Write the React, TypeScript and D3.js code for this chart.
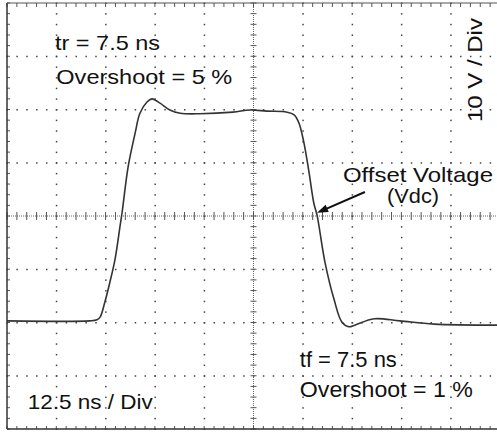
import React from "react";
import * as d3 from "d3";

// Waveform samples: time (ns) and voltage (V)
const timeNs = [0, 21.0, 22.8, 23.6, 24.8, 26.1, 27.4, 28.7, 29.2, 30.7, 32.5, 33.7, 35.5, 36.8, 38.8, 41.3, 43.9, 48.9, 57.3, 61.6, 65.9, 71.0, 72.8, 74.0, 75.3, 76.6, 77.8, 78.6, 80.6, 82.9, 84.9, 86.7, 88.2, 93.1, 99.6, 108.3, 125];
const voltV = [-19.7, -19.7, -19.5, -19.0, -16.2, -12.4, -8.1, -1.7, 0.75, 9.2, 15.6, 19.3, 21.4, 22.0, 21.2, 19.9, 19.3, 19.2, 19.5, 19.9, 19.7, 19.5, 19.0, 17.5, 13.7, 8.1, 2.4, 0.2, -8.6, -15.6, -19.9, -20.8, -20.5, -19.3, -19.7, -20.3, -20.5];

const xDivs = 10;
const yDivs = 8;
const nsPerDiv = 12.5;
const voltsPerDiv = 10;
const minorPerDiv = 5;

// Annotation texts with positions in divisions
const labels = [
  { text: "tr = 7.5 ns", dx: 0.974, dy: 3.117, len: 105, fs: 21 },
  { text: "Overshoot = 5 %", dx: 1.0, dy: 2.479, len: 176, fs: 21 },
  { text: "Offset Voltage", dx: 6.815, dy: 0.64, len: 150, fs: 21 },
  { text: "(Vdc)", dx: 7.71, dy: 0.25, len: 52, fs: 20 },
  { text: "tf = 7.5 ns", dx: 5.94, dy: -2.84, len: 97, fs: 22 },
  { text: "Overshoot = 1 %", dx: 5.94, dy: -3.4, len: 173, fs: 22 },
  { text: "12.5 ns / Div", dx: 0.42, dy: -3.624, len: 125, fs: 21 },
];
const vLabel = { text: "10 V / Div", dx: 9.63, dy: 2.74, len: 104 };
const arrowDiv = { x1: 7.26, y1: 0.45, x2: 6.29, y2: 0.06 };

export default function App() {
  const W = 497, H = 432;
  const L = 7, R = 500, T = 3, B = 429;
  const xd = d3.scaleLinear().domain([0, xDivs]).range([L, R]);
  const yd = d3.scaleLinear().domain([-yDivs / 2, yDivs / 2]).range([B, T]);
  const x = d3.scaleLinear().domain([0, xDivs * nsPerDiv]).range([L, R]);
  const y = d3.scaleLinear().domain([-(yDivs / 2) * voltsPerDiv, (yDivs / 2) * voltsPerDiv]).range([B, T]);

  const pts = timeNs.map((t, i) => [t, voltV[i]] as [number, number]);
  const line = d3.line<[number, number]>().x(d => x(d[0])).y(d => y(d[1])).curve(d3.curveCatmullRom.alpha(0.5));

  const xMinor = d3.range(0, xDivs * minorPerDiv + 1).map(i => i / minorPerDiv);
  const yMinor = d3.range(0, yDivs * minorPerDiv + 1).map(i => i / minorPerDiv - yDivs / 2);
  const xMajor = d3.range(1, xDivs);
  const yMajor = d3.range(-yDivs / 2 + 1, yDivs / 2);

  const dots: React.ReactNode[] = [];
  yMajor.forEach(gy => {
    if (gy === 0) return;
    xMinor.forEach((mx, i) => {
      dots.push(<rect key={`h${gy}-${i}`} x={xd(mx) - 0.5} y={yd(gy) - 0.5} width={1.5} height={1.5} fill="#444" />);
    });
  });
  xMajor.forEach(gx => {
    if (gx === 5) return;
    yMinor.forEach((my, i) => {
      dots.push(<rect key={`v${gx}-${i}`} x={xd(gx) - 0.5} y={yd(my) - 0.5} width={1.5} height={1.5} fill="#444" />);
    });
  });

  const ticks: React.ReactNode[] = [];
  xMinor.forEach((mx, i) => {
    ticks.push(<line key={`cx${i}`} x1={xd(mx)} x2={xd(mx)} y1={yd(0) - 4} y2={yd(0) + 4} stroke="#555" strokeWidth={1} />);
    ticks.push(<line key={`tx${i}`} x1={xd(mx)} x2={xd(mx)} y1={T} y2={T + 4} stroke="#555" strokeWidth={1} />);
    ticks.push(<line key={`bx${i}`} x1={xd(mx)} x2={xd(mx)} y1={B - 3} y2={B} stroke="#555" strokeWidth={1} />);
  });
  yMinor.forEach((my, i) => {
    ticks.push(<line key={`cy${i}`} x1={xd(5) - 3} x2={xd(5) + 3} y1={yd(my)} y2={yd(my)} stroke="#555" strokeWidth={1} />);
    ticks.push(<line key={`ly${i}`} x1={L} x2={L + 3} y1={yd(my)} y2={yd(my)} stroke="#555" strokeWidth={1} />);
  });

  const font = "'Liberation Sans', Arial, Helvetica, sans-serif";
  const ax1 = xd(arrowDiv.x1), ay1 = yd(arrowDiv.y1), ax2 = xd(arrowDiv.x2), ay2 = yd(arrowDiv.y2);
  const ang = Math.atan2(ay2 - ay1, ax2 - ax1);
  const ah = 11, aw = 4;
  const head = [
    [ax2, ay2],
    [ax2 - ah * Math.cos(ang) + aw * Math.sin(ang), ay2 - ah * Math.sin(ang) - aw * Math.cos(ang)],
    [ax2 - ah * Math.cos(ang) - aw * Math.sin(ang), ay2 - ah * Math.sin(ang) + aw * Math.cos(ang)],
  ];

  return (
    <svg width={W} height={H} style={{ position: "absolute", left: 0, top: 0, background: "#fff" }}>
      <rect x={0} y={0} width={W} height={H} fill="#fff" />
      {dots}
      <line x1={L} x2={R} y1={yd(0)} y2={yd(0)} stroke="#666" strokeWidth={1} strokeDasharray="1,1" />
      <line x1={xd(5)} x2={xd(5)} y1={T} y2={B} stroke="#666" strokeWidth={1} strokeDasharray="1,1" />
      {ticks}
      <line x1={L} x2={L} y1={T} y2={B} stroke="#333" strokeWidth={1.5} />
      <line x1={L} x2={R} y1={T} y2={T} stroke="#555" strokeWidth={1.2} />
      <line x1={L} x2={R} y1={B} y2={B} stroke="#333" strokeWidth={1.5} />
      <path d={line(pts) || ""} fill="none" stroke="#333" strokeWidth={1.6} />
      {labels.map(l => (
        <text key={l.text} x={xd(l.dx)} y={yd(l.dy)} fontFamily={font} fontSize={l.fs} fill="#111"
          textLength={l.len} lengthAdjust="spacingAndGlyphs">{l.text}</text>
      ))}
      <text x={xd(vLabel.dx)} y={yd(vLabel.dy)} transform={`rotate(-90 ${xd(vLabel.dx)} ${yd(vLabel.dy)})`}
        textAnchor="middle" fontFamily={font} fontSize={21} fill="#111" textLength={vLabel.len} lengthAdjust="spacingAndGlyphs">{vLabel.text}</text>
      <line x1={ax1} y1={ay1} x2={head[0][0] - 8 * Math.cos(ang)} y2={head[0][1] - 8 * Math.sin(ang)} stroke="#111" strokeWidth={2} />
      <polygon points={head.map(p => p.join(",")).join(" ")} fill="#111" />
    </svg>
  );
}
